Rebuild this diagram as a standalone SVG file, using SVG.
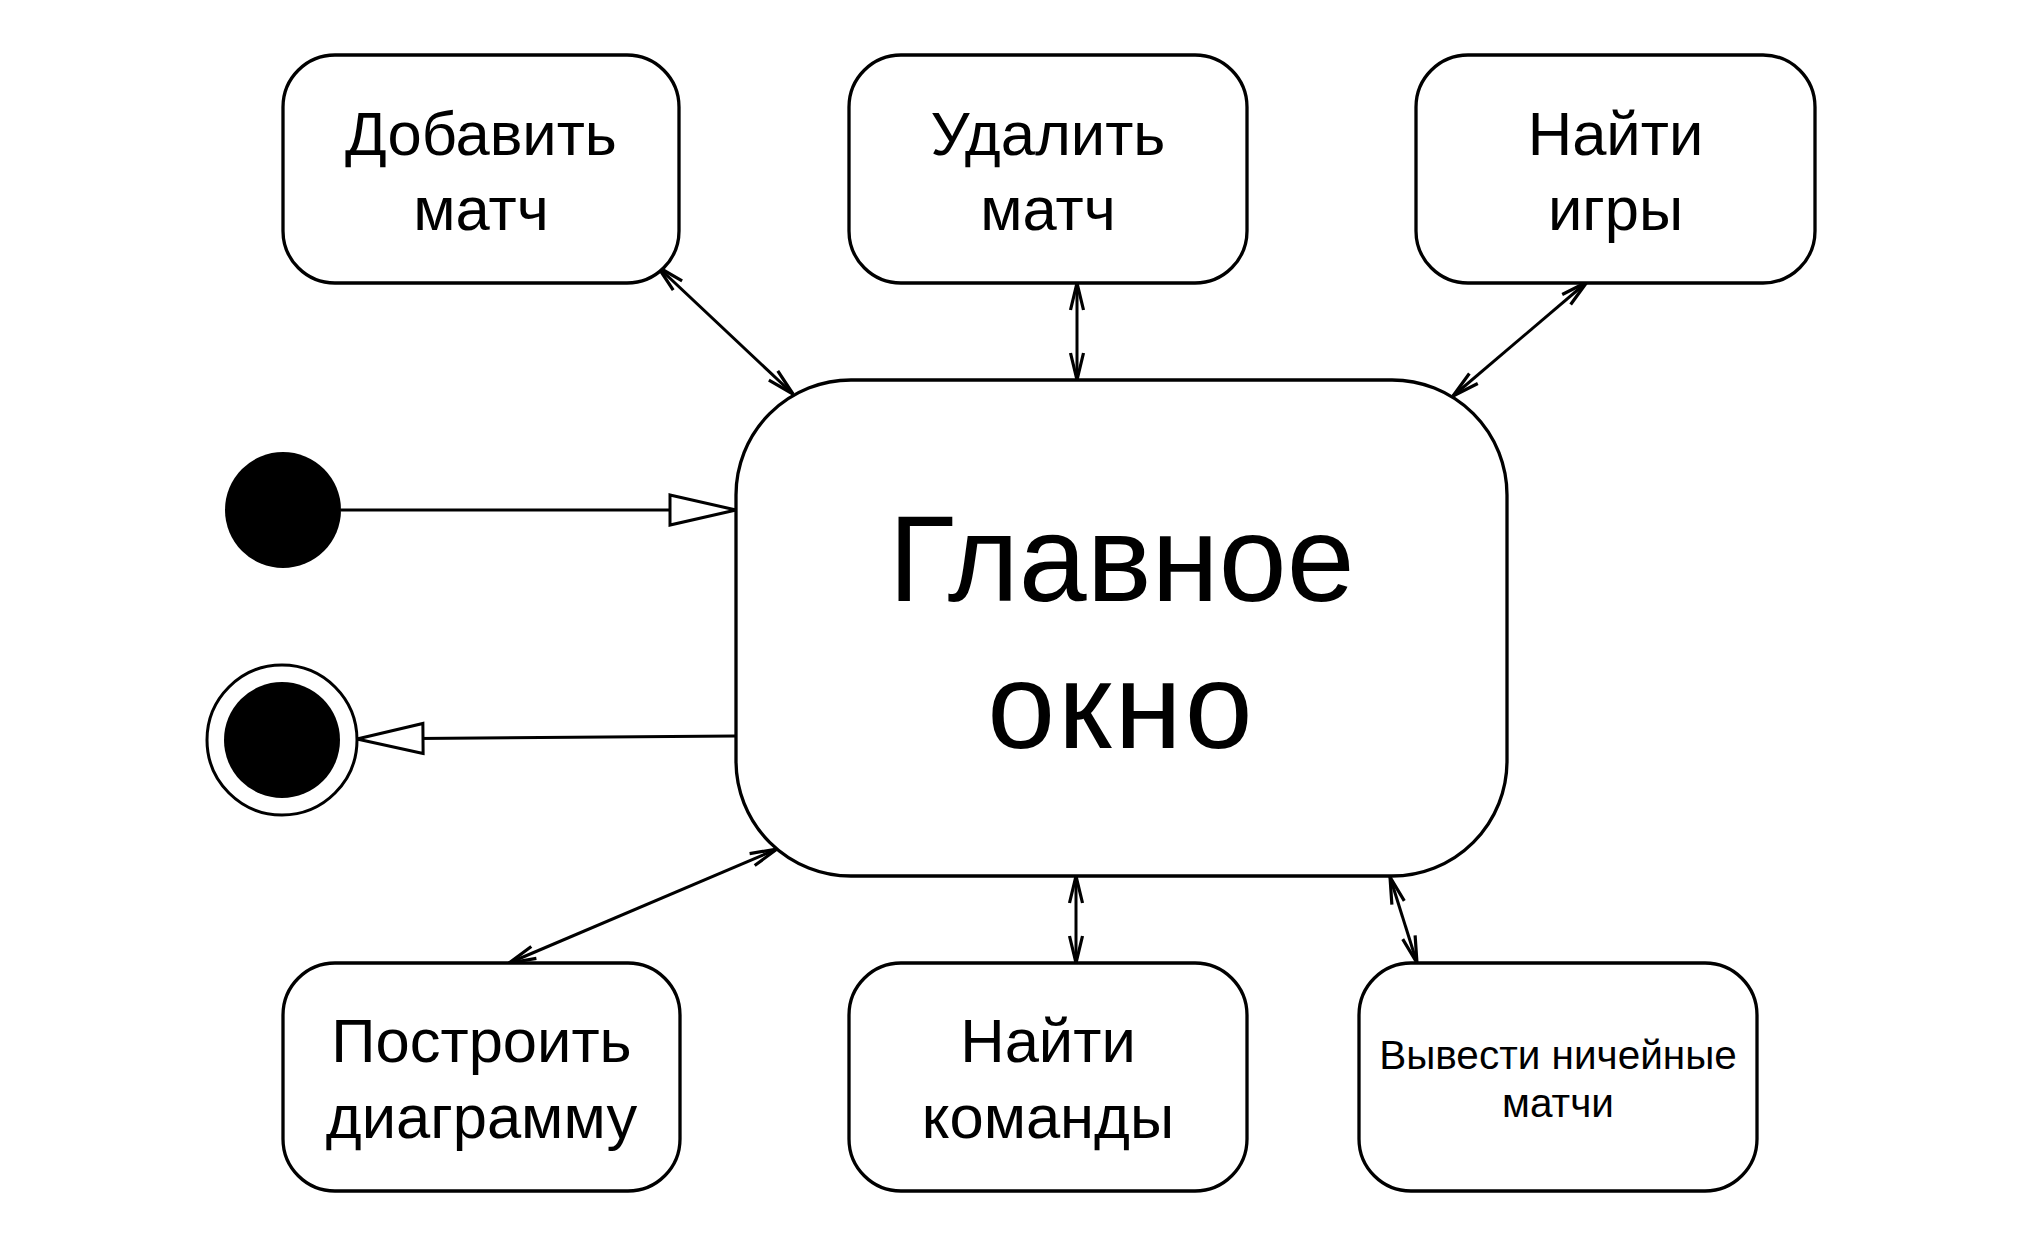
<svg xmlns="http://www.w3.org/2000/svg" width="2032" height="1256" viewBox="0 0 2032 1256">
<style>
.box{fill:#fff;stroke:#000;stroke-width:3.3}
.lbl{font-family:"Liberation Sans",Arial,Helvetica,sans-serif;font-size:61.5px;fill:#000;text-anchor:middle}
.conn{fill:none;stroke:#000;stroke-width:3}
</style>
<defs>
<marker id="open" markerUnits="userSpaceOnUse" viewBox="-30 -10 34 20" refX="0" refY="0" markerWidth="34" markerHeight="20" orient="auto-start-reverse" overflow="visible">
<path d="M -27 -6.5 L 0 0 L -27 6.5" fill="none" stroke="#000" stroke-width="3.2" stroke-linejoin="miter"/>
</marker>
<marker id="hollow" markerUnits="userSpaceOnUse" viewBox="-70 -18 72 36" refX="0" refY="0" markerWidth="72" markerHeight="36" orient="auto" overflow="visible">
<path d="M -66 -15 L 0 0 L -66 15 Z" fill="#fff" stroke="#000" stroke-width="3"/>
</marker>
</defs>
<rect width="2032" height="1256" fill="#fff"/>
<g id="connectors">
<line class="conn" x1="658" y1="267" x2="793" y2="394" marker-start="url(#open)" marker-end="url(#open)"/>
<line class="conn" x1="1077" y1="283" x2="1077" y2="380" marker-start="url(#open)" marker-end="url(#open)"/>
<line class="conn" x1="1587" y1="282" x2="1453" y2="396" marker-start="url(#open)" marker-end="url(#open)"/>
<line class="conn" x1="509" y1="963" x2="777" y2="849" marker-start="url(#open)" marker-end="url(#open)"/>
<line class="conn" x1="1076" y1="876" x2="1076" y2="963" marker-start="url(#open)" marker-end="url(#open)"/>
<line class="conn" x1="1390" y1="877" x2="1417" y2="963" marker-start="url(#open)" marker-end="url(#open)"/>
<line class="conn" x1="341" y1="510" x2="736" y2="510" marker-end="url(#hollow)"/>
<line class="conn" x1="736" y1="736" x2="357" y2="739" marker-end="url(#hollow)"/>
</g>
<g id="initial">
<circle cx="283" cy="510" r="58" fill="#000"/>
</g>
<g id="final">
<circle cx="282" cy="740" r="75" fill="#fff" stroke="#000" stroke-width="3"/>
<circle cx="282" cy="740" r="58" fill="#000"/>
</g>
<g id="main">
<rect class="box" x="736" y="380" width="771" height="496" rx="115" ry="115"/>
<text class="lbl" style="font-size:122px" x="1121.5" y="601">Главное</text>
<text class="lbl" style="font-size:122px" x="1121.5" y="748" letter-spacing="3">окно</text>
</g>
<g id="add">
<rect class="box" x="283" y="55" width="396" height="228" rx="52" ry="52"/>
<text class="lbl" x="481" y="155">Добавить</text>
<text class="lbl" x="481" y="230">матч</text>
</g>
<g id="delete">
<rect class="box" x="849" y="55" width="398" height="228" rx="52" ry="52"/>
<text class="lbl" x="1048" y="155">Удалить</text>
<text class="lbl" x="1048" y="230">матч</text>
</g>
<g id="find-games">
<rect class="box" x="1416" y="55" width="399" height="228" rx="52" ry="52"/>
<text class="lbl" x="1615.5" y="155">Найти</text>
<text class="lbl" x="1615.5" y="230">игры</text>
</g>
<g id="chart">
<rect class="box" x="283" y="963" width="397" height="228" rx="52" ry="52"/>
<text class="lbl" x="481.5" y="1062">Построить</text>
<text class="lbl" x="481.5" y="1138">диаграмму</text>
</g>
<g id="find-teams">
<rect class="box" x="849" y="963" width="398" height="228" rx="52" ry="52"/>
<text class="lbl" x="1048" y="1062">Найти</text>
<text class="lbl" x="1048" y="1138">команды</text>
</g>
<g id="draws">
<rect class="box" x="1359" y="963" width="398" height="228" rx="52" ry="52"/>
<text class="lbl" style="font-size:40.5px" x="1558" y="1069">Вывести ничейные</text>
<text class="lbl" style="font-size:40.5px" x="1558" y="1117">матчи</text>
</g>
</svg>
